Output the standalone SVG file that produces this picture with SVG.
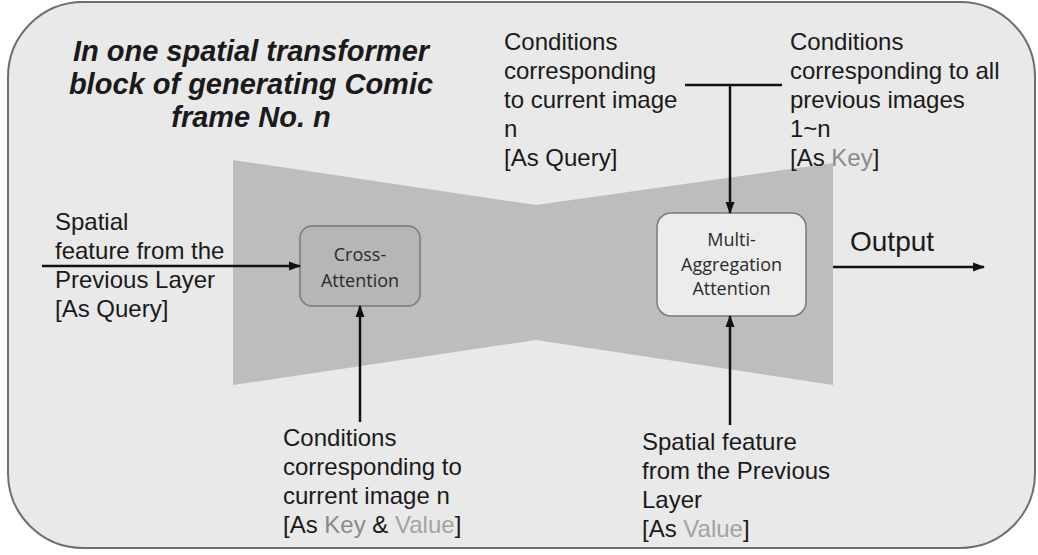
<svg xmlns="http://www.w3.org/2000/svg" width="1038" height="555" viewBox="0 0 1038 555">
<style>
.t{font-family:"Liberation Sans",Arial,sans-serif;font-size:24px;fill:#1a1a1a}
.title{font-family:"Liberation Sans",Arial,sans-serif;font-size:29px;font-weight:bold;font-style:italic;fill:#1a1a1a;text-anchor:middle}
.bl{font-family:"Open Sans",sans-serif;font-size:18px;fill:#2a2a2a;text-anchor:middle}
.key{fill:#8a8a8a}
.val{fill:#a3a3a3}
.c{stroke:#111;stroke-width:2.5;fill:none}
</style>
<defs>
<marker id="ah" markerWidth="12" markerHeight="12" refX="11" refY="6" orient="auto" markerUnits="userSpaceOnUse">
<path d="M0,1.5 L12,6 L0,10.5 Z" fill="#111"/>
</marker>
</defs>
<g id="background">
<rect x="8" y="2" width="1027" height="546" rx="75" ry="75" fill="#e9e9e9" stroke="#6e6e6e" stroke-width="2"/>
<polygon points="233,160 536,205 833,163 833,385 536,340 233,385" fill="#bdbdbd"/>
</g>
<g id="title">
<text class="title" x="251" y="61">In one spatial transformer</text>
<text class="title" x="251" y="94">block of generating Comic</text>
<text class="title" x="251" y="127">frame No. n</text>
</g>
<g id="cross-attention">
<rect x="300" y="226" width="120" height="80" rx="12" ry="12" fill="#b6b6b6" stroke="#7a7a7a" stroke-width="1.5"/>
<text class="bl" x="360" y="261">Cross-</text>
<text class="bl" x="360" y="287">Attention</text>
</g>
<g id="multi-aggregation-attention">
<rect x="657" y="213" width="149" height="103" rx="14" ry="14" fill="#ececec" stroke="#7a7a7a" stroke-width="1.5"/>
<text class="bl" x="731.5" y="246">Multi-</text>
<text class="bl" x="731.5" y="270.5">Aggregation</text>
<text class="bl" x="731.5" y="295">Attention</text>
</g>
<g id="label-spatial-query">
<text class="t" x="55" y="230">Spatial</text>
<text class="t" x="55" y="259">feature from the</text>
<text class="t" x="55" y="288">Previous Layer</text>
<text class="t" x="55" y="317">[As Query]</text>
</g>
<g id="label-conditions-query">
<text class="t" x="504" y="50">Conditions</text>
<text class="t" x="504" y="79">corresponding</text>
<text class="t" x="504" y="108">to current image</text>
<text class="t" x="504" y="137">n</text>
<text class="t" x="504" y="166">[As Query]</text>
</g>
<g id="label-conditions-key">
<text class="t" x="790" y="50">Conditions</text>
<text class="t" x="790" y="79">corresponding to all</text>
<text class="t" x="790" y="108">previous images</text>
<text class="t" x="790" y="137">1~n</text>
<text class="t" x="790" y="166">[As <tspan class="key">Key</tspan>]</text>
</g>
<g id="label-conditions-keyvalue">
<text class="t" x="283" y="446">Conditions</text>
<text class="t" x="283" y="475">corresponding to</text>
<text class="t" x="283" y="504">current image n</text>
<text class="t" x="283" y="533">[As <tspan class="key">Key</tspan> &amp; <tspan class="val">Value</tspan>]</text>
</g>
<g id="label-spatial-value">
<text class="t" x="642" y="450">Spatial feature</text>
<text class="t" x="642" y="479">from the Previous</text>
<text class="t" x="642" y="508">Layer</text>
<text class="t" x="642" y="537">[As <tspan class="val">Value</tspan>]</text>
</g>
<g id="label-output">
<text class="t" x="850" y="251" style="font-size:28px">Output</text>
</g>
<g id="connectors">
<line class="c" x1="42" y1="266" x2="300" y2="266" marker-end="url(#ah)"/>
<line class="c" x1="360" y1="422" x2="360" y2="306" marker-end="url(#ah)"/>
<line class="c" x1="685" y1="85" x2="782" y2="85"/>
<line class="c" x1="730" y1="85" x2="730" y2="213" marker-end="url(#ah)"/>
<line class="c" x1="730" y1="425" x2="730" y2="316" marker-end="url(#ah)"/>
<line class="c" x1="833" y1="267" x2="984" y2="267" marker-end="url(#ah)"/>
</g>
</svg>
